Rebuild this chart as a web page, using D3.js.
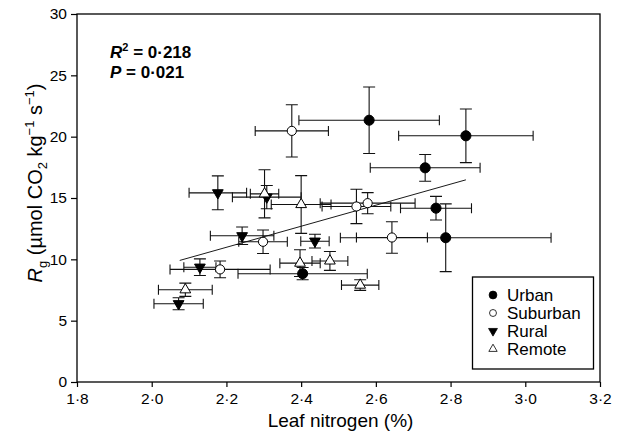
<!DOCTYPE html>
<html>
<head>
<meta charset="utf-8">
<script src="https://cdn.jsdelivr.net/npm/d3@7"></script>
<style>
  body { margin: 0; background: #fff; }
  svg { font-family: "Liberation Sans", Arial, sans-serif; }
</style>
</head>
<body>
<svg id="chart" width="620" height="433"></svg>
<script>
// site groups
const groups = ['Urban', 'Suburban', 'Rural', 'Remote'];

const urbanN = [2.582, 2.841, 2.732, 2.761, 2.787, 2.404];
const urbanR = [21.34, 20.07, 17.46, 14.17, 11.76, 8.83];
const urbanNerr = [0.188, 0.180, 0.147, 0.095, 0.282, 0.173];
const urbanRerr = [2.71, 2.19, 1.09, 0.96, 2.76, 0.50];

const suburbanN = [2.375, 2.548, 2.578, 2.643, 2.298, 2.183];
const suburbanR = [20.47, 14.31, 14.58, 11.78, 11.43, 9.18];
const suburbanNerr = [0.098, 0.092, 0.127, 0.095, 0.065, 0.134];
const suburbanRerr = [2.13, 1.40, 0.86, 1.28, 0.96, 0.68];

const ruralN = [2.177, 2.308, 2.242, 2.437, 2.129, 2.072];
const ruralR = [15.42, 15.07, 11.92, 11.48, 9.36, 6.38];
const ruralNerr = [0.077, 0.092, 0.085, 0.038, 0.043, 0.066];
const ruralRerr = [1.38, 0.95, 0.71, 0.56, 0.68, 0.49];

const remoteN = [2.302, 2.400, 2.397, 2.477, 2.558, 2.090];
const remoteR = [15.34, 14.47, 9.69, 9.87, 7.90, 7.52];
const remoteNerr = [0.038, 0.080, 0.054, 0.048, 0.050, 0.072];
const remoteRerr = [1.96, 2.35, 1.09, 0.77, 0.43, 0.54];

// fitted line
const fitRange = [2.075, 2.841];
const fitSlope = 8.577;
const fitIntercept = -7.887;

const xTicks = [1.8, 2.0, 2.2, 2.4, 2.6, 2.8, 3.0, 3.2];
const yTicks = [0, 5, 10, 15, 20, 25, 30];

const svg = d3.select('#chart');
const margin = { top: 14, right: 20, bottom: 51, left: 77 };
const width = 620;
const height = 433;

const x = d3.scaleLinear().domain([1.8, 3.2]).range([margin.left, width - margin.right]);
const y = d3.scaleLinear().domain([0, 30]).range([height - margin.bottom, margin.top]);

const styles = {
  Urban: { shape: d3.symbolCircle, size: 80, fill: '#000' },
  Suburban: { shape: d3.symbolCircle, size: 66, fill: '#fff' },
  Rural: { shape: d3.symbolTriangle, size: 50, fill: '#000', rotate: 180 },
  Remote: { shape: d3.symbolTriangle, size: 50, fill: '#fff', rotate: 0 }
};

const series = [
  { name: 'Urban', n: urbanN, r: urbanR, ne: urbanNerr, re: urbanRerr },
  { name: 'Suburban', n: suburbanN, r: suburbanR, ne: suburbanNerr, re: suburbanRerr },
  { name: 'Rural', n: ruralN, r: ruralR, ne: ruralNerr, re: ruralRerr },
  { name: 'Remote', n: remoteN, r: remoteR, ne: remoteNerr, re: remoteRerr }
];

const points = series.flatMap(s => s.n.map((v, i) => ({
  group: s.name, n: v, r: s.r[i], ne: s.ne[i], re: s.re[i]
})));

// axes
const xAxis = g => g
  .attr('transform', `translate(0,${height - margin.bottom})`)
  .call(d3.axisBottom(x).tickValues(xTicks).tickSize(5).tickPadding(6)
    .tickFormat(d => d.toFixed(1).replace('.', '\u00b7')))
  .call(g => g.select('.domain').remove());

const yAxis = g => g
  .attr('transform', `translate(${margin.left},0)`)
  .call(d3.axisLeft(y).tickValues(yTicks).tickSize(6).tickPadding(4))
  .call(g => g.select('.domain').remove());

svg.append('g').call(xAxis);
svg.append('g').call(yAxis);
svg.selectAll('.tick text').attr('font-size', 15.5).attr('fill', '#000')
  .attr('font-family', '"Liberation Sans", Arial, sans-serif');
svg.selectAll('.tick line').attr('stroke', '#000').attr('stroke-width', 1.2);

svg.append('rect')
  .attr('x', x(1.8)).attr('y', y(30))
  .attr('width', x(3.2) - x(1.8)).attr('height', y(0) - y(30))
  .attr('fill', 'none').attr('stroke', '#000').attr('stroke-width', 1.3);

// regression line
svg.append('line')
  .attr('x1', x(fitRange[0])).attr('y1', y(fitIntercept + fitSlope * fitRange[0]))
  .attr('x2', x(fitRange[1])).attr('y2', y(fitIntercept + fitSlope * fitRange[1]))
  .attr('stroke', '#000').attr('stroke-width', 0.9);

// error bars
const bars = svg.append('g').attr('stroke', '#111').attr('stroke-width', 1.1).attr('fill', 'none');
const capH = 5, capV = 6;
points.forEach(d => {
  const cx = x(d.n), cy = y(d.r);
  const x0 = x(d.n - d.ne), x1 = x(d.n + d.ne);
  const y0 = y(d.r - d.re), y1 = y(d.r + d.re);
  bars.append('path').attr('d',
    `M${x0},${cy}H${x1}M${x0},${cy - capH}V${cy + capH}M${x1},${cy - capH}V${cy + capH}` +
    `M${cx},${y0}V${y1}M${cx - capV},${y0}H${cx + capV}M${cx - capV},${y1}H${cx + capV}`);
});

// markers
svg.append('g')
  .selectAll('path')
  .data(points)
  .join('path')
    .attr('d', d => d3.symbol(styles[d.group].shape, styles[d.group].size)())
    .attr('transform', d => `translate(${x(d.n)},${y(d.r)}) rotate(${styles[d.group].rotate || 0})`)
    .attr('fill', d => styles[d.group].fill)
    .attr('stroke', '#000').attr('stroke-width', 1);

// axis titles
svg.append('text')
  .attr('x', (x(1.8) + x(3.2)) / 2 + 2).attr('y', 427)
  .attr('text-anchor', 'middle').attr('font-size', 19)
  .text('Leaf nitrogen (%)');

const yl = svg.append('text')
  .attr('transform', 'translate(42,183) rotate(-90)')
  .attr('text-anchor', 'middle').attr('font-size', 20);
yl.append('tspan').attr('font-style', 'italic').text('R');
yl.append('tspan').attr('font-size', 13).attr('dy', 5).text('g');
yl.append('tspan').attr('dy', -5).text(' (\u00b5mol CO');
yl.append('tspan').attr('font-size', 13).attr('dy', 5).text('2');
yl.append('tspan').attr('dy', -5).text(' kg');
yl.append('tspan').attr('font-size', 13).attr('dy', -8).text('\u22121');
yl.append('tspan').attr('dy', 8).text(' s');
yl.append('tspan').attr('font-size', 13).attr('dy', -8).text('\u22121');
yl.append('tspan').attr('dy', 8).text(')');

// statistics
const stats = svg.append('g').attr('font-weight', 'bold').attr('font-size', 17);
const r2 = stats.append('text').attr('x', 110).attr('y', 58);
r2.append('tspan').attr('font-style', 'italic').text('R');
r2.append('tspan').attr('font-size', 11).attr('dy', -7).text('2');
r2.append('tspan').attr('dy', 7).text(' = 0\u00b7218');
const pv = stats.append('text').attr('x', 110).attr('y', 78);
pv.append('tspan').attr('font-style', 'italic').text('P');
pv.append('tspan').text(' = 0\u00b7021');

// legend
const legend = svg.append('g');
legend.append('rect')
  .attr('x', 472.5).attr('y', 277).attr('width', 121).attr('height', 92)
  .attr('fill', '#fff').attr('stroke', '#000').attr('stroke-width', 1.3);
const legendSize = { Urban: 48, Suburban: 38, Rural: 34, Remote: 30 };
groups.forEach((g, i) => {
  const ly = 295 + i * 18;
  legend.append('path')
    .attr('d', d3.symbol(styles[g].shape, legendSize[g])())
    .attr('transform', `translate(493,${ly}) rotate(${styles[g].rotate || 0})`)
    .attr('fill', styles[g].fill).attr('stroke', '#000').attr('stroke-width', 0.8);
  legend.append('text')
    .attr('x', 507).attr('y', ly + 6).attr('font-size', 17)
    .text(g);
});
</script>
</body>
</html>
